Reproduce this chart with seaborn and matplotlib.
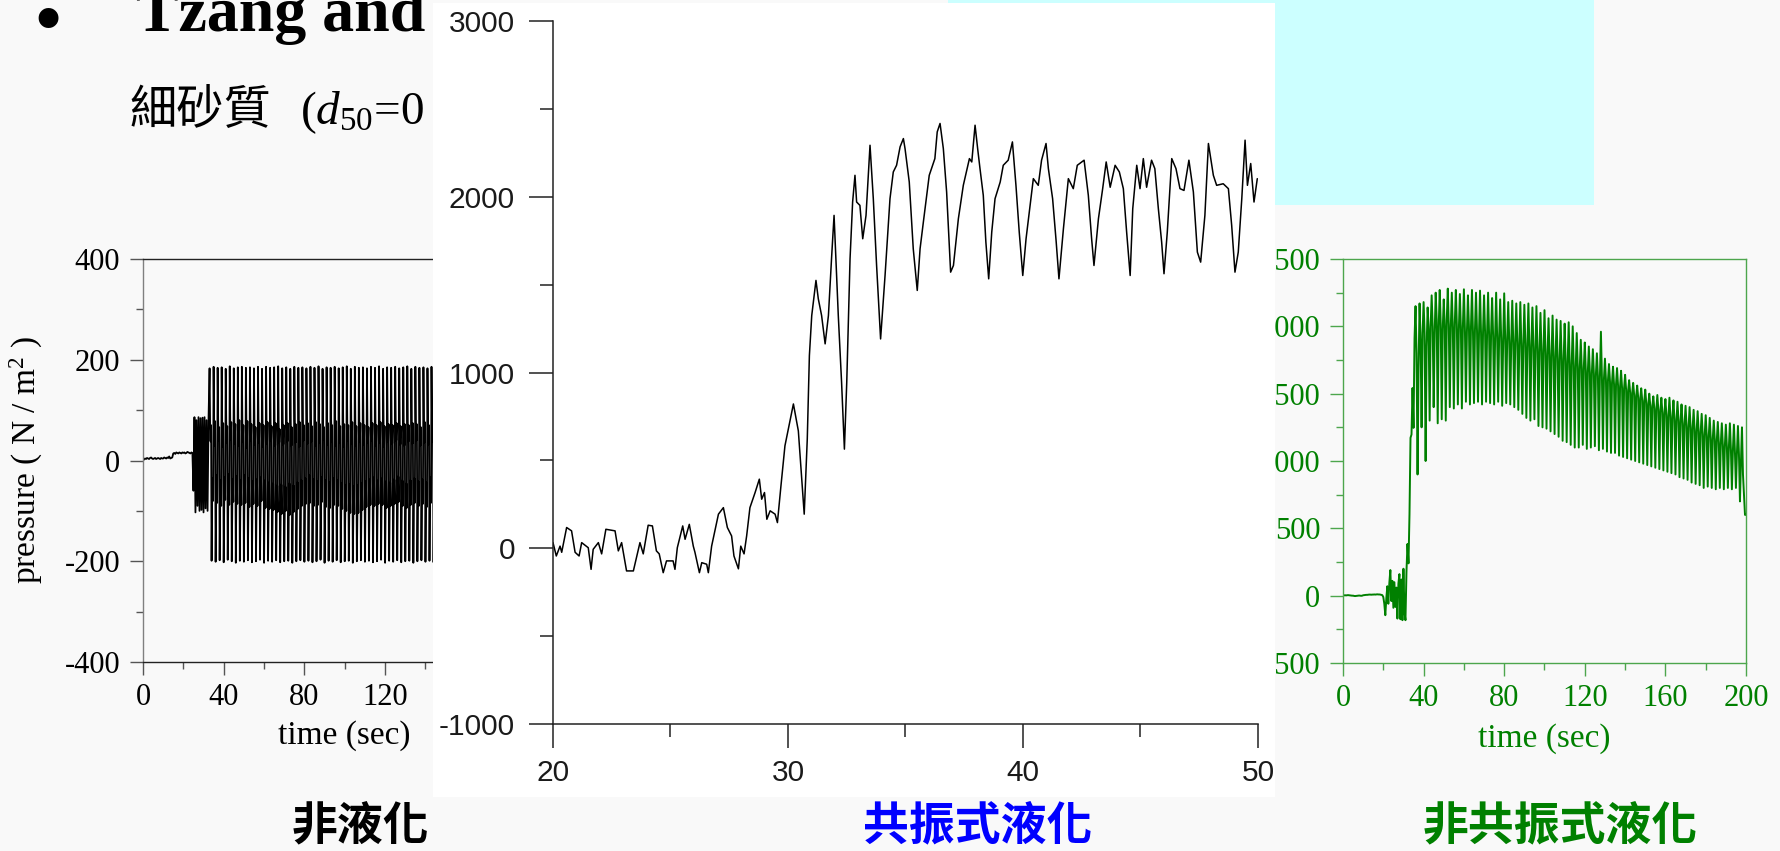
import numpy as np
import pandas as pd
import matplotlib
matplotlib.use("Agg")
import matplotlib.pyplot as plt
import seaborn as sns
from matplotlib.patches import Rectangle

# ---------------------------------------------------------------- data
# Non-liquefied case (N/m^2): quiet start sampled every 0.5 s ...
left_pre_dt = 0.5
left_pre_p = [
    0, 2, 4, 3, 5, 4, 3, 5, 6, 4, 3, 4, 5, 3, 4, 5, 4, 3, 5, 4,
    4, 6, 5, 4, 6, 5, 8, 4, 5, 6, 14, 15, 13, 16, 15, 14, 16, 15, 14, 16,
    15, 16, 14, 15, 17, 16, 15, 14, 16, 15,
    -60, 86, -103, 80, -90, 86, -100, 84, -98, 85, -103, 86, -95, 80, -100, 86,
]
# ... then the wave-loaded part from t = 33 s, sampled every 0.25 s
left_osc_t0 = 33.0
left_osc_dt = 0.25
left_osc_p = [
    183, 76, 38, 70, -199, -84, -36, -80, 186, 72, 30, 78, -201, -88, -30, -84,
    184, 80, 40, 66, -198, -82, -40, -90, 185, 70, 28, 74, -202, -90, -34, -78,
    182, 78, 36, 68, -197, -86, -28, -88, 187, 74, 42, 76, -200, -92, -38, -82,
    183, 82, 34, 72, -203, -80, -32, -86, 185, 68, 30, 80, -199, -94, -40, -88,
    186, 76, 38, 70, -201, -86, -30, -84, 184, 72, 26, 78, -198, -90, -36, -92,
    185, 80, 40, 72, -202, -88, -42, -86, 183, 70, 32, 66, -200, -96, -38, -90,
    186, 78, 36, 74, -197, -84, -34, -80, 182, 74, 28, 70, -203, -92, -40, -94,
    186, 66, 34, 76, -199, -90, -44, -96, 184, 76, 40, 68, -201, -100, -46, -98,
    185, 70, 30, 74, -198, -104, -50, -102, 187, 72, 36, 62, -202, -98, -48, -106,
    183, 78, 32, 70, -200, -108, -52, -100, 185, 68, 38, 74, -199, -104, -46, -108,
    182, 74, 30, 66, -203, -110, -50, -102, 186, 80, 36, 72, -200, -100, -44, -96,
    184, 70, 28, 76, -198, -94, -40, -90, 185, 78, 40, 70, -201, -88, -36, -86,
    183, 82, 34, 74, -199, -82, -30, -84, 186, 72, 38, 68, -202, -88, -38, -90,
    184, 78, 30, 76, -200, -94, -42, -88, 187, 68, 36, 72, -197, -86, -34, -82,
    182, 74, 42, 66, -203, -90, -40, -92, 185, 66, 32, 74, -199, -96, -44, -94,
    184, 80, 38, 70, -201, -86, -36, -88, 186, 72, 30, 78, -198, -92, -40, -90,
    183, 76, 36, 68, -202, -98, -46, -96, 185, 64, 28, 72, -200, -104, -50, -100,
    187, 74, 40, 70, -199, -100, -48, -104, 182, 70, 34, 76, -203, -108, -52, -106,
    186, 76, 30, 68, -200, -110, -50, -104, 184, 66, 38, 74, -198, -102, -46, -98,
    185, 78, 32, 70, -201, -95, -42, -92, 183, 72, 36, 66, -199, -90, -38, -88,
    186, 76, 40, 74, -202, -88, -34, -90, 184, 68, 30, 70, -200, -92, -40, -86,
    187, 80, 36, 76, -197, -85, -36, -88, 182, 70, 28, 68, -203, -90, -42, -94,
    185, 74, 38, 72, -199, -96, -44, -90, 184, 66, 34, 70, -201, -88, -38, -86,
    186, 78, 40, 74, -198, -84, -32, -82, 183, 72, 32, 68, -202, -92, -40, -90,
    185, 64, 30, 72, -200, -98, -46, -94, 187, 76, 38, 70, -199, -90, -40, -88,
    182, 68, 34, 74, -203, -86, -36, -84, 186, 80, 40, 72, -200, -94, -42, -90,
    184, 70, 30, 66, -198, -88, -38, -86, 185, 74, 36, 76, -201, -92, -44, -92,
    183, 72, 32, 70, -199, -80, -34, -84, 186, 78, 38, 72, -202, -90, -40, -88,
    184, 66, 30, 74, -200, -86, -36, -90,
    180,
]

# Resonant liquefaction: time (s) and pore pressure (N/m^2)
center_t = [
    20.00, 20.14, 20.30, 20.37, 20.58, 20.79, 20.94, 21.11, 21.22, 21.50, 21.62, 21.71, 21.93, 22.07,
    22.25, 22.64, 22.78, 22.92, 23.13, 23.42, 23.59, 23.70, 23.84, 24.05, 24.23, 24.40, 24.52, 24.69,
    24.83, 25.11, 25.19, 25.29, 25.52, 25.62, 25.80, 25.97, 26.04, 26.23, 26.33, 26.54, 26.61, 26.75,
    27.04, 27.25, 27.42, 27.60, 27.70, 27.89, 27.99, 28.13, 28.24, 28.38, 28.60, 28.78, 28.88, 29.00,
    29.10, 29.24, 29.45, 29.55, 29.70, 29.87, 30.10, 30.23, 30.44, 30.69, 30.82, 30.91, 31.01, 31.19,
    31.29, 31.43, 31.58, 31.72, 31.86, 31.96, 32.14, 32.28, 32.40, 32.50, 32.64, 32.75, 32.85, 32.92,
    33.06, 33.18, 33.32, 33.49, 33.63, 33.77, 33.94, 34.13, 34.34, 34.48, 34.62, 34.77, 34.91, 34.98,
    35.16, 35.33, 35.50, 35.62, 35.76, 36.01, 36.25, 36.35, 36.47, 36.61, 36.75, 36.92, 37.04, 37.25,
    37.46, 37.72, 37.82, 37.96, 38.07, 38.17, 38.31, 38.42, 38.54, 38.67, 38.81, 39.03, 39.16, 39.37,
    39.55, 39.70, 39.84, 39.99, 40.13, 40.30, 40.44, 40.65, 40.79, 40.98, 41.08, 41.26, 41.41, 41.53,
    41.72, 41.93, 42.14, 42.31, 42.60, 42.78, 42.92, 43.02, 43.21, 43.39, 43.54, 43.71, 43.92, 44.10,
    44.27, 44.41, 44.56, 44.67, 44.84, 44.98, 45.12, 45.26, 45.47, 45.61, 45.76, 45.90, 46.00, 46.14,
    46.33, 46.51, 46.68, 46.85, 47.06, 47.25, 47.42, 47.56, 47.74, 47.89, 48.10, 48.24, 48.52, 48.74,
    48.88, 49.02, 49.16, 49.31, 49.45, 49.55, 49.69, 49.83, 49.97,
]
center_p = [
    32, -44, 12, -23, 118, 99, -23, -44, 32, 3, -120, -6, 32, -32,
    108, 99, -15, 32, -129, -129, -32, 32, -32, 131, 127, -15, -32, -139,
    -72, -72, -120, 3, 127, 51, 136, 12, -23, -139, -82, -91, -139, 12,
    194, 231, 118, 70, -44, -117, 12, -32, 70, 231, 317, 393, 279, 317,
    165, 213, 194, 146, 355, 583, 735, 821, 668, 194, 621, 1096, 1324, 1524,
    1419, 1324, 1163, 1324, 1666, 1894, 1324, 944, 564, 944, 1647, 1970, 2122, 1970,
    1951, 1761, 1894, 2293, 1989, 1609, 1191, 1552, 1989, 2141, 2179, 2284, 2331, 2274,
    2084, 1704, 1467, 1704, 1856, 2122, 2217, 2369, 2417, 2274, 2027, 1571, 1609, 1875,
    2065, 2217, 2198, 2407, 2274, 2160, 2008, 1742, 1533, 1799, 1989, 2084, 2179, 2208,
    2312, 2065, 1799, 1552, 1761, 1951, 2103, 2065, 2208, 2303, 2160, 1989, 1747, 1533,
    1818, 2103, 2046, 2179, 2208, 2008, 1761, 1609, 1875, 2046, 2198, 2054, 2179, 2141,
    2046, 1799, 1552, 1932, 2179, 2046, 2217, 2054, 2208, 2160, 1932, 1742, 1562, 1799,
    2217, 2160, 2046, 2036, 2208, 2027, 1685, 1628, 1894, 2303, 2122, 2065, 2074, 2046,
    1837, 1571, 1685, 1989, 2322, 2065, 2189, 1970, 2103,
]

# Non-resonant liquefaction: pore pressure sampled every 0.5 s (N/m^2)
right_dt = 0.5
right_p = [
    0, 2, 3, 2, 3, 4, 3, 2, 1, 0, 0, -2, -3, -2, -1, 0, 1, 0, -1, 0,
    3, 4, 5, 6, 6, 7, 8, 8, 7, 8, 8, 9, 8, 9, 10, 9, 9, 8, 6, 4,
    -10, -60, -145, -20, 70, -60, 95, 190, -40, 110, -90, 100, -84, 60, -170, 90,
    160, -175, 120, -182, 200, -120, -182, 180, 384, 240, 606, 1172, 1197, 1542, 1246, 1911,
    2150, 1800, 900, 1700, 2170, 1900, 1250, 1950, 2180, 1950, 1000, 1850, 2140, 1980, 1300, 2000, 2230, 2000, 1400, 1950,
    2250, 2050, 1280, 2000, 2270, 2020, 1310, 1980, 2200, 2000, 1300, 2050, 2280, 2010, 1400, 2000, 2250, 1990, 1390, 2030,
    2270, 2010, 1420, 1980, 2240, 1990, 1390, 2000, 2275, 1980, 1440, 1960, 2230, 2000, 1420, 1990, 2270, 1960, 1430, 1980,
    2250, 1970, 1440, 1950, 2265, 1950, 1420, 1960, 2230, 1960, 1440, 1940, 2250, 1940, 1430, 1950, 2210, 1930, 1420, 1920,
    2250, 1920, 1440, 1930, 2200, 1910, 1410, 1900, 2245, 1900, 1430, 1910, 2180, 1890, 1420, 1880, 2190, 1880, 1400, 1890,
    2170, 1880, 1380, 1870, 2180, 1860, 1350, 1870, 2160, 1870, 1320, 1850, 2170, 1850, 1300, 1860, 2140, 1840, 1310, 1830,
    2150, 1830, 1260, 1820, 2100, 1810, 1250, 1820, 2120, 1800, 1240, 1790, 2060, 1790, 1220, 1780, 2080, 1770, 1200, 1780,
    2050, 1760, 1180, 1750, 2040, 1750, 1150, 1760, 2020, 1740, 1140, 1730, 2030, 1720, 1120, 1720, 2000, 1710, 1100, 1700,
    1950, 1700, 1100, 1690, 1900, 1680, 1120, 1690, 1880, 1670, 1090, 1660, 1850, 1660, 1100, 1650, 1830, 1650, 1110, 1640,
    1800, 1630, 1080, 1630, 1960, 1620, 1090, 1610, 1760, 1600, 1070, 1600, 1720, 1590, 1060, 1580, 1700, 1570, 1060, 1570,
    1690, 1560, 1040, 1550, 1670, 1540, 1030, 1540, 1640, 1530, 1020, 1520, 1600, 1510, 1010, 1500, 1580, 1490, 1000, 1480,
    1560, 1470, 990, 1460, 1540, 1450, 980, 1440, 1530, 1430, 970, 1420, 1500, 1410, 960, 1400, 1480, 1390, 950, 1380,
    1490, 1380, 940, 1370, 1470, 1360, 930, 1350, 1460, 1340, 920, 1330, 1470, 1330, 910, 1320, 1450, 1310, 900, 1300,
    1440, 1300, 880, 1290, 1420, 1280, 870, 1270, 1410, 1260, 860, 1250, 1400, 1250, 840, 1240, 1380, 1230, 830, 1220,
    1370, 1220, 820, 1210, 1350, 1200, 800, 1190, 1340, 1190, 810, 1180, 1320, 1170, 800, 1160, 1300, 1160, 790, 1150,
    1290, 1140, 800, 1130, 1280, 1120, 790, 1110, 1270, 1110, 800, 1100, 1280, 1090, 790, 1080, 1270, 1070, 800, 1060,
    1260, 1050, 700, 1000, 1250, 900, 750, 600,
    600,
]

# axis ticks
side_xticks = [0, 40, 80, 120, 160, 200]
side_xticklabels = ["0", "40", "80", "120", "160", "200"]
left_yticks = [-400, -200, 0, 200, 400]
left_yticklabels = ["-400", "-200", "0", "200", "400"]
right_yticks = [-500, 0, 500, 1000, 1500, 2000, 2500]
right_yticklabels = ["-500", "0", "500", "1000", "1500", "2000", "2500"]
center_xticks = [20, 30, 40, 50]
center_xticklabels = ["20", "30", "40", "50"]
center_yticks = [-1000, 0, 1000, 2000, 3000]
center_yticklabels = ["-1000", "0", "1000", "2000", "3000"]

captions = ["非液化", "共振式液化", "非共振式液化"]

# ---------------------------------------------------------------- style
sns.set_theme(style="ticks")
plt.rcParams["font.family"] = ["Liberation Serif", "Noto Sans CJK TC", "DejaVu Sans"]
plt.rcParams["axes.unicode_minus"] = False
plt.rcParams["mathtext.fontset"] = "custom"
plt.rcParams["mathtext.rm"] = "Liberation Serif"
plt.rcParams["mathtext.it"] = "Liberation Serif:italic"

W, H = 1781, 851
BG = "#f9f9f9"
GREEN = "#008000"
GREEN_AX = "#4da64d"
SERIF = "Liberation Serif"
SANS = "Liberation Sans"
CJK = ["Noto Sans CJK TC", "DejaVu Sans"]

fig = plt.figure(figsize=(W / 100, H / 100), dpi=100, facecolor=BG)


def rect(x0, y0, x1, y1):
    """Pixel box (origin top-left) -> figure fraction [left, bottom, width, height]."""
    return [x0 / W, 1 - y1 / H, (x1 - x0) / W, (y1 - y0) / H]


def fx(x):
    return x / W


def fy(y):
    return 1 - y / H


# ---------------------------------------------------------------- slide text behind the plots
fig.text(fx(48), fy(46), "•", fontsize=60, ha="center", va="baseline", color="black",
         family=SERIF, zorder=0.6)
fig.text(fx(136), fy(31), "Tzang and", fontsize=46, fontweight="bold", ha="left",
         va="baseline", color="black", family=SERIF, zorder=0.6)
fig.text(fx(130), fy(124), "細砂質", fontsize=34, ha="left", va="baseline",
         color="black", family=CJK, zorder=0.6)
fig.text(fx(300), fy(124), r"($\mathit{d_{50}}$=0", fontsize=34, ha="left",
         va="baseline", color="black", family=SERIF, zorder=0.6)

fig.add_artist(Rectangle((fx(948), fy(205)), (1594 - 948) / W, 205 / H,
                         transform=fig.transFigure, facecolor="#ccffff",
                         edgecolor="none", zorder=0.5))

# ---------------------------------------------------------------- left: non-liquefied
left_t = np.concatenate([np.arange(len(left_pre_p)) * left_pre_dt,
                         left_osc_t0 + np.arange(len(left_osc_p)) * left_osc_dt])
left_df = pd.DataFrame({"t": left_t, "p": left_pre_p + left_osc_p})
ax_l = fig.add_axes(rect(143, 259, 546.5, 662), zorder=1)
ax_l.set_facecolor("none")
sns.lineplot(data=left_df, x="t", y="p", ax=ax_l, color="black", linewidth=1.3,
             estimator=None, sort=False)
ax_l.set_xlim(0, 200)
ax_l.set_ylim(-400, 400)
ax_l.set_xticks(side_xticks, side_xticklabels, fontsize=22, fontfamily=SERIF)
ax_l.set_xticks([20, 60, 100, 140, 180], minor=True)
ax_l.set_yticks(left_yticks, left_yticklabels, fontsize=22, fontfamily=SERIF)
ax_l.set_yticks([-300, -100, 100, 300], minor=True)
ax_l.tick_params(which="major", length=9.4, width=1.0, color="#555555", labelcolor="black")
ax_l.tick_params(which="minor", length=5, width=1.0, color="#555555")
ax_l.tick_params(axis="x", which="major", pad=6)
ax_l.tick_params(axis="y", which="major", pad=7)
for name, sp in ax_l.spines.items():
    sp.set_visible(True)
    sp.set_linewidth(1.0)
    sp.set_color("#808080" if name == "left" else "#222222")
ax_l.set_xlabel("time (sec)", fontsize=24, fontfamily=SERIF, color="black")
ax_l.xaxis.set_label_coords(0.5, -0.144)
ax_l.set_ylabel("pressure ( N / m$^{2}$ )", fontsize=24, fontfamily=SERIF, color="black")
ax_l.yaxis.set_label_coords(-0.243, 0.5)

# ---------------------------------------------------------------- right: non-resonant liquefaction
right_df = pd.DataFrame({"t": np.arange(len(right_p)) * right_dt, "p": right_p})
ax_r = fig.add_axes(rect(1343, 259, 1746, 663), zorder=1)
ax_r.set_facecolor("none")
sns.lineplot(data=right_df, x="t", y="p", ax=ax_r, color=GREEN, linewidth=1.4,
             estimator=None, sort=False)
ax_r.set_xlim(0, 200)
ax_r.set_ylim(-500, 2500)
ax_r.set_xticks(side_xticks, side_xticklabels, fontsize=22, fontfamily=SERIF)
ax_r.set_xticks([20, 60, 100, 140, 180], minor=True)
ax_r.set_yticks(right_yticks, right_yticklabels, fontsize=22, fontfamily=SERIF)
ax_r.set_yticks([-250, 250, 750, 1250, 1750, 2250], minor=True)
ax_r.tick_params(which="major", length=9.4, width=1.0, color=GREEN_AX, labelcolor=GREEN)
ax_r.tick_params(which="minor", length=5, width=1.0, color=GREEN_AX)
ax_r.tick_params(axis="x", which="major", pad=6)
ax_r.tick_params(axis="y", which="major", pad=7)
for sp in ax_r.spines.values():
    sp.set_visible(True)
    sp.set_linewidth(1.0)
    sp.set_color(GREEN_AX)
ax_r.set_xlabel("time (sec)", fontsize=24, fontfamily=SERIF, color=GREEN)
ax_r.xaxis.set_label_coords(0.5, -0.148)
ax_r.set_ylabel("")

# ---------------------------------------------------------------- centre: resonant liquefaction
fig.add_artist(Rectangle((fx(433), fy(797)), (1275 - 433) / W, (797 - 3) / H,
                         transform=fig.transFigure, facecolor="white",
                         edgecolor="none", zorder=5))

center_df = pd.DataFrame({"t": center_t, "p": center_p})
ax_c = fig.add_axes(rect(553, 21, 1258, 724), zorder=6)
ax_c.set_facecolor("none")
sns.lineplot(data=center_df, x="t", y="p", ax=ax_c, color="black", linewidth=1.1,
             estimator=None, sort=False)
ax_c.set_xlim(20, 50)
ax_c.set_ylim(-1000, 3000)
ax_c.set_xticks(center_xticks, center_xticklabels, fontsize=21.5, fontfamily=SANS)
ax_c.set_xticks([25, 35, 45], minor=True)
ax_c.set_yticks(center_yticks, center_yticklabels, fontsize=21.5, fontfamily=SANS)
ax_c.set_yticks([-500, 500, 1500, 2500], minor=True)
ax_c.tick_params(which="major", length=17.3, width=1.1, color="#222222", labelcolor="#1a1a1a")
ax_c.tick_params(which="minor", length=9.5, width=1.1, color="#222222")
ax_c.tick_params(axis="x", which="major", pad=8)
ax_c.tick_params(axis="y", which="major", pad=10)
ax_c.spines["top"].set_visible(False)
ax_c.spines["right"].set_visible(False)
for name in ("left", "bottom"):
    ax_c.spines[name].set_linewidth(1.1)
    ax_c.spines[name].set_color("#222222")
ax_c.set_xlabel("")
ax_c.set_ylabel("")

# ---------------------------------------------------------------- captions
for text, x, col in zip(captions, [360, 978, 1560], ["black", "#0000ff", GREEN]):
    fig.text(fx(x), fy(826), text, fontsize=33, fontweight="bold", ha="center",
             va="center", color=col, family=CJK, zorder=7)

fig.savefig("out.png", dpi=100, facecolor=BG)
